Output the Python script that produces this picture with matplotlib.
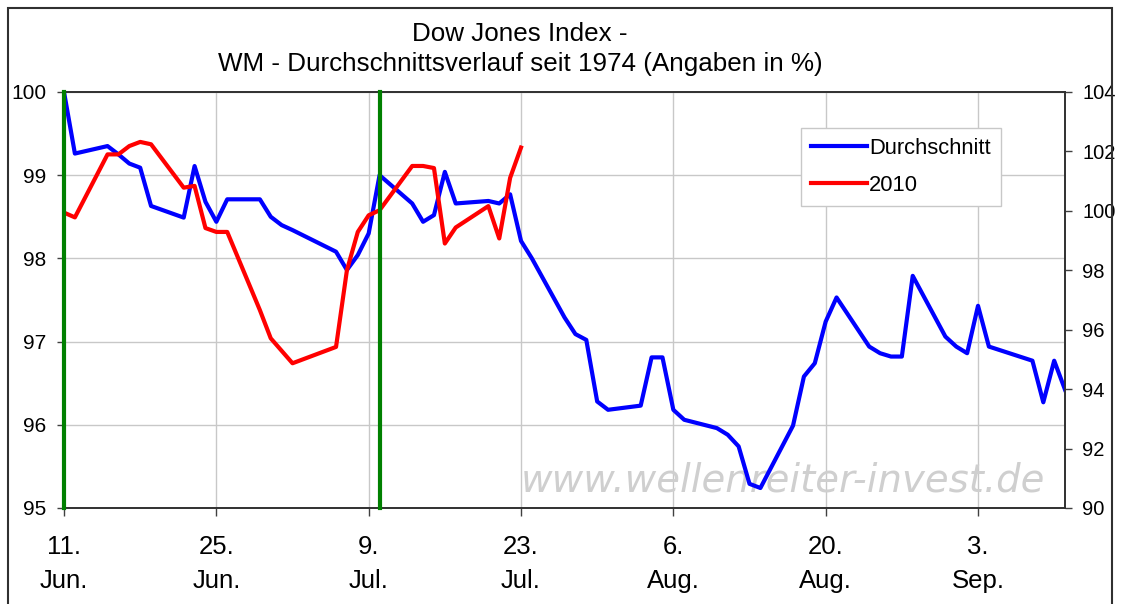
import datetime as dt
import matplotlib
matplotlib.use("Agg")
import matplotlib.pyplot as plt
from matplotlib.lines import Line2D
from matplotlib.patches import Rectangle

# trading days (positions on the x axis)
dates = ["2009-06-11", "2009-06-12", "2009-06-15", "2009-06-16", "2009-06-17", "2009-06-18",
         "2009-06-19", "2009-06-22", "2009-06-23", "2009-06-24", "2009-06-25", "2009-06-26",
         "2009-06-29", "2009-06-30",
         "2009-07-01", "2009-07-02", "2009-07-06", "2009-07-07", "2009-07-08", "2009-07-09",
         "2009-07-10", "2009-07-13", "2009-07-14", "2009-07-15", "2009-07-16", "2009-07-17",
         "2009-07-20", "2009-07-21", "2009-07-22", "2009-07-23", "2009-07-24", "2009-07-27",
         "2009-07-28", "2009-07-29", "2009-07-30", "2009-07-31",
         "2009-08-03", "2009-08-04", "2009-08-05", "2009-08-06", "2009-08-07", "2009-08-10",
         "2009-08-11", "2009-08-12", "2009-08-13", "2009-08-14", "2009-08-17", "2009-08-18",
         "2009-08-19", "2009-08-20", "2009-08-21", "2009-08-24", "2009-08-25", "2009-08-26",
         "2009-08-27", "2009-08-28", "2009-08-31",
         "2009-09-01", "2009-09-02", "2009-09-03", "2009-09-04", "2009-09-08", "2009-09-09",
         "2009-09-10", "2009-09-11"]

durchschnitt = [100.0, 99.26, 99.35, 99.25, 99.14, 99.09, 98.63, 98.49, 99.11, 98.68, 98.44, 98.71,
                98.71, 98.50,
                98.40, 98.34, 98.08, 97.86, 98.04, 98.30, 99.00, 98.66, 98.44, 98.52, 99.04, 98.66,
                98.69, 98.66, 98.77, 98.21, 98.00, 97.29, 97.09, 97.02, 96.28, 96.18,
                96.23, 96.81, 96.81, 96.18, 96.06, 95.96, 95.88, 95.74, 95.29, 95.24, 95.99, 96.58,
                96.74, 97.24, 97.53, 96.94, 96.86, 96.82, 96.82, 97.79, 97.06,
                96.94, 96.86, 97.43, 96.94, 96.77, 96.27, 96.77, 96.42]

# 2010 series (right axis), only up to 23. Jul.
y2010 = [99.94, 99.78, 101.90, 101.90, 102.18, 102.32, 102.24, 100.78, 100.84, 99.42, 99.29, 99.29,
         96.66, 95.71,
         95.29, 94.87, 95.42, 98.00, 99.29, 99.85, 100.02, 101.51, 101.51, 101.44, 98.90, 99.44,
         100.16, 99.07, 101.11, 102.13]

marker_dates = ["2009-06-11", "2009-07-10"]

tick_dates = ["2009-06-11", "2009-06-25", "2009-07-09", "2009-07-23", "2009-08-06", "2009-08-20",
              "2009-09-03"]
tick_labels = ["11.\nJun.", "25.\nJun.", "9.\nJul.", "23.\nJul.", "6.\nAug.", "20.\nAug.",
               "3.\nSep."]

def d(s):
    return dt.datetime.strptime(s, "%Y-%m-%d")

x = [d(s) for s in dates]
x2010 = x[:len(y2010)]

plt.rcParams['font.family'] = ['Liberation Sans', 'DejaVu Sans']

fig = plt.figure(figsize=(11.21, 6.04), dpi=100)
ax = fig.add_axes([0.0571, 0.159, 0.893, 0.6887])
ax2 = ax.twinx()

ax.plot(x, durchschnitt, color='#0000ff', linewidth=3, zorder=3)
ax2.plot(x2010, y2010, color='#ff0000', linewidth=3, zorder=3)
for m in marker_dates:
    ax2.axvline(d(m), color='#008000', linewidth=3, zorder=4, clip_on=False)

ax.set_xlim(d("2009-06-11"), d("2009-09-11"))
ax.set_ylim(95, 100)
ax2.set_ylim(90, 104)
ax.set_yticks([95, 96, 97, 98, 99, 100])
ax2.set_yticks(range(90, 105, 2))
ax.set_xticks([d(s) for s in tick_dates])
ax.set_xticklabels(tick_labels, fontsize=18.5, linespacing=1.55)

ax.grid(True, color='#c8c8c8', linewidth=1)
ax.set_axisbelow(True)

ax.tick_params(axis='y', labelsize=15, length=5, width=1, color='#404040', pad=7.5)
ax.tick_params(axis='x', length=6, width=1, color='#404040', pad=13.5)
ax2.tick_params(axis='y', labelsize=14.5, length=5, width=1, color='#404040', pad=7.5)
for a in (ax, ax2):
    for sp in a.spines.values():
        sp.set_color('#303030')
        sp.set_linewidth(1.2)
    a.spines['left'].set_visible(False)

handles = [Line2D([], [], color='#0000ff', linewidth=3),
           Line2D([], [], color='#ff0000', linewidth=3)]
leg = ax2.legend(handles, ["Durchschnitt", "2010"], loc='upper left',
                 bbox_to_anchor=(0.736, 0.9135), borderaxespad=0, fontsize=15.8,
                 handlelength=2.55, labelspacing=0.74, borderpad=0.45, handletextpad=0.12,
                 fancybox=False, framealpha=1, edgecolor='#c8c8c8')
leg.get_frame().set_linewidth(1)
leg.set_zorder(5)

ax.text(0.718, 0.067, "www.wellenreiter-invest.de", transform=ax.transAxes,
        ha='center', va='center', fontsize=27.8, style='italic', color='#cfcfcf',
        family='DejaVu Sans', zorder=1)

fig.text(0.464, 0.8825, "Dow Jones Index -\nWM - Durchschnittsverlauf seit 1974 (Angaben in %)",
         ha='center', va='baseline', fontsize=18.75, linespacing=1.3)

fig.patches.append(Rectangle((0.0071, -0.05), 0.985, 1.0368, transform=fig.transFigure,
                             fill=False, edgecolor='#303030', linewidth=1.5))

fig.savefig("out.png", dpi=100)
